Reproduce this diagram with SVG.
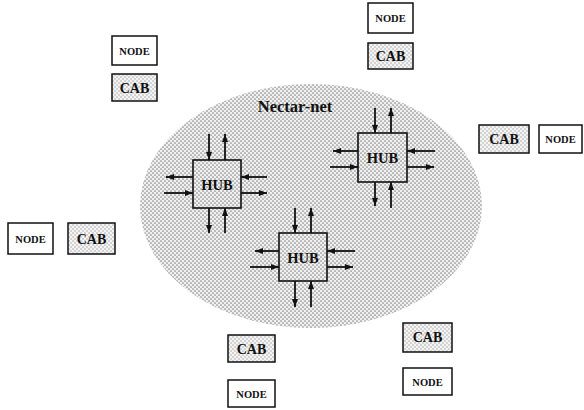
<svg xmlns="http://www.w3.org/2000/svg" width="584" height="410" viewBox="0 0 584 410">
  <defs>
    <!-- halftone stipple fills -->
    <pattern id="stipple" width="4" height="4" patternUnits="userSpaceOnUse">
      <rect width="4" height="4" fill="#f0f0f0"/>
      <circle cx="1" cy="1" r="0.85" fill="#8a8a8a"/>
      <circle cx="3" cy="3" r="0.85" fill="#8a8a8a"/>
    </pattern>
    <pattern id="stipple-light" width="4" height="4" patternUnits="userSpaceOnUse">
      <rect width="4" height="4" fill="#f4f4f4"/>
      <circle cx="1" cy="1" r="0.7" fill="#9a9a9a"/>
      <circle cx="3" cy="3" r="0.7" fill="#9a9a9a"/>
    </pattern>
    <marker id="head" markerWidth="8" markerHeight="6" refX="8" refY="3" orient="auto" markerUnits="userSpaceOnUse">
      <path d="M0,0 L8,3 L0,6 z" fill="#111"/>
    </marker>
    <style>
      .box { stroke: #111; stroke-width: 1.5; }
      .node { fill: #ffffff; }
      .cab { fill: url(#stipple-light); }
      .hub { fill: url(#stipple); stroke: #111; stroke-width: 1.6; }
      .lbl { font-family: "Liberation Serif", "Times New Roman", serif; font-weight: bold; fill: #111; text-anchor: middle; }
      .node-t { font-size: 10.5px; }
      .cab-t { font-size: 14px; }
      .hub-t { font-size: 14.5px; }
      .net-t { font-size: 16.5px; }
      .link { stroke: #111; stroke-width: 1.8; fill: none; marker-end: url(#head); }
    </style>
  </defs>

  <rect width="584" height="410" fill="#ffffff"/>

  <!-- network cloud -->
  <g id="nectar-net">
    <ellipse cx="311" cy="206" rx="171" ry="122" fill="url(#stipple)"/>
    <text class="lbl net-t" x="295" y="112">Nectar-net</text>
  </g>

  <!-- hubs -->
  <g id="hub-1">
    <rect class="hub" x="193" y="160" width="48" height="48"/>
    <text class="lbl hub-t" x="217" y="190">HUB</text>
  </g>
  <g id="hub-2">
    <rect class="hub" x="358" y="133" width="49" height="49"/>
    <text class="lbl hub-t" x="382.5" y="163">HUB</text>
  </g>
  <g id="hub-3">
    <rect class="hub" x="279" y="233" width="48" height="48"/>
    <text class="lbl hub-t" x="303" y="263">HUB</text>
  </g>

  <!-- hub ports: one in, one out per side -->
  <g id="connectors">
    <!-- hub 1 (193,160) -->
    <line class="link" x1="209" y1="134" x2="209" y2="160"/>
    <line class="link" x1="225" y1="160" x2="225" y2="134"/>
    <line class="link" x1="267" y1="177" x2="241" y2="177"/>
    <line class="link" x1="241" y1="193" x2="267" y2="193"/>
    <line class="link" x1="209" y1="208" x2="209" y2="233"/>
    <line class="link" x1="225" y1="233" x2="225" y2="208"/>
    <line class="link" x1="193" y1="177" x2="166" y2="177"/>
    <line class="link" x1="164" y1="193" x2="193" y2="193"/>
    <!-- hub 2 (358,133) -->
    <line class="link" x1="375" y1="108" x2="375" y2="133"/>
    <line class="link" x1="391" y1="133" x2="391" y2="108"/>
    <line class="link" x1="435" y1="151" x2="407" y2="151"/>
    <line class="link" x1="407" y1="167" x2="434" y2="167"/>
    <line class="link" x1="375" y1="182" x2="375" y2="206"/>
    <line class="link" x1="391" y1="208" x2="391" y2="182"/>
    <line class="link" x1="358" y1="151" x2="333" y2="151"/>
    <line class="link" x1="330" y1="167" x2="358" y2="167"/>
    <!-- hub 3 (279,233) -->
    <line class="link" x1="295" y1="208" x2="295" y2="233"/>
    <line class="link" x1="311" y1="233" x2="311" y2="208"/>
    <line class="link" x1="355" y1="251" x2="327" y2="251"/>
    <line class="link" x1="327" y1="267" x2="353" y2="267"/>
    <line class="link" x1="295" y1="281" x2="295" y2="307"/>
    <line class="link" x1="311" y1="307" x2="311" y2="281"/>
    <line class="link" x1="279" y1="251" x2="255" y2="251"/>
    <line class="link" x1="250" y1="267" x2="279" y2="267"/>
  </g>

  <!-- stations around the network -->
  <g id="node-nw">
    <rect class="box node" x="112" y="36" width="45" height="29"/>
    <text class="lbl node-t" x="134.5" y="54.5">NODE</text>
  </g>
  <g id="cab-nw">
    <rect class="box cab" x="112" y="74" width="45" height="27"/>
    <text class="lbl cab-t" x="134.5" y="92.5">CAB</text>
  </g>

  <g id="node-n">
    <rect class="box node" x="368" y="3" width="45" height="30"/>
    <text class="lbl node-t" x="390.5" y="22">NODE</text>
  </g>
  <g id="cab-n">
    <rect class="box cab" x="368" y="43" width="45" height="26"/>
    <text class="lbl cab-t" x="390.5" y="61">CAB</text>
  </g>

  <g id="cab-e">
    <rect class="box cab" x="479" y="125" width="50" height="28"/>
    <text class="lbl cab-t" x="504" y="144">CAB</text>
  </g>
  <g id="node-e">
    <rect class="box node" x="539" y="125" width="43" height="28"/>
    <text class="lbl node-t" x="560.5" y="143">NODE</text>
  </g>

  <g id="node-w">
    <rect class="box node" x="8" y="223" width="45" height="31"/>
    <text class="lbl node-t" x="30.5" y="242.5">NODE</text>
  </g>
  <g id="cab-w">
    <rect class="box cab" x="68" y="223" width="47" height="31"/>
    <text class="lbl cab-t" x="91.5" y="243.5">CAB</text>
  </g>

  <g id="cab-s">
    <rect class="box cab" x="228" y="335" width="47" height="27"/>
    <text class="lbl cab-t" x="251.5" y="353.5">CAB</text>
  </g>
  <g id="node-s">
    <rect class="box node" x="228" y="380" width="47" height="27"/>
    <text class="lbl node-t" x="251.5" y="397.5">NODE</text>
  </g>

  <g id="cab-se">
    <rect class="box cab" x="403" y="323" width="49" height="29"/>
    <text class="lbl cab-t" x="427.5" y="342">CAB</text>
  </g>
  <g id="node-se">
    <rect class="box node" x="403" y="368" width="49" height="27"/>
    <text class="lbl node-t" x="427.5" y="385.5">NODE</text>
  </g>
</svg>
